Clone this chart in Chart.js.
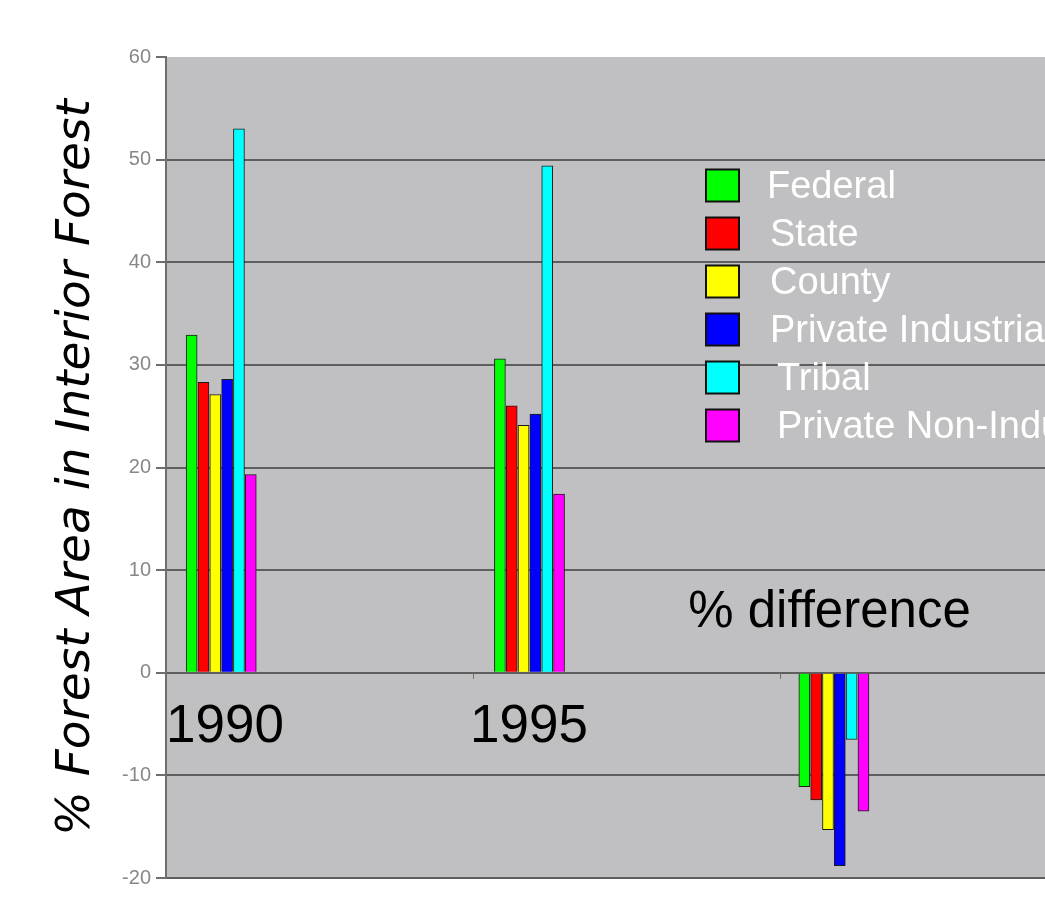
<!DOCTYPE html>
<html lang="en">
<head>
<meta charset="UTF-8">
<title>% Forest Area in Interior Forest</title>
<script src="https://cdn.jsdelivr.net/npm/chart.js"></script>
<style>
  html, body { margin: 0; padding: 0; background: #fff; overflow: hidden; }
</style>
</head>
<body>
<canvas id="forestChart" width="1200" height="923"></canvas>
<script>
// categories and ownership classes
const categories = ['1990', '1995', '% difference'];
const owners = ['Federal', 'State', 'County', 'Private Industrial', 'Tribal', 'Private Non-Industrial'];

// % forest area in interior forest, one array per owner (1990, 1995, % difference)
const federal = [32.9, 30.6, -11.1];
const state = [28.3, 26.0, -12.4];
const county = [27.1, 24.1, -15.3];
const privateIndustrial = [28.6, 25.2, -18.8];
const tribal = [53.0, 49.4, -6.5];
const privateNonIndustrial = [19.3, 17.4, -13.5];

const yTicks = [-20, -10, 0, 10, 20, 30, 40, 50, 60];

const seriesValues = [federal, state, county, privateIndustrial, tribal, privateNonIndustrial];
const barColors = ['#00ff00', '#ff0000', '#ffff00', '#0000ff', '#00ffff', '#ff00ff'];

// bars sit at the left of each category slot, like the original excel chart
const groupStart = [0.0835, 0.087, 0.078];
const slot = 0.0385;

const datasets = owners.map((name, i) => ({
    label: name,
    data: seriesValues[i].map((v, c) => ({ x: c + groupStart[c] + i * slot, y: v })),
    backgroundColor: barColors[i],
    borderColor: '#1c1c1c',
    borderWidth: 1,
    barThickness: 11,
    grouped: false
}));

// gray plot area
const plotBackground = {
    id: 'plotBackground',
    beforeDraw(chart) {
        const { ctx, chartArea: a } = chart;
        ctx.save();
        ctx.fillStyle = '#c0c0c2';
        ctx.fillRect(a.left, a.top, a.right - a.left, a.bottom - a.top);
        ctx.restore();
    }
};

// small tick marks on the zero line + text boxes for the categories
const categoryText = {
    id: 'categoryText',
    afterDatasetsDraw(chart) {
        const { ctx, scales: { x, y } } = chart;
        ctx.save();
        ctx.strokeStyle = '#6e6e6e';
        ctx.lineWidth = 1;
        [1, 2, 3].forEach(v => {
            const px = Math.round(x.getPixelForValue(v)) + 0.5;
            ctx.beginPath();
            ctx.moveTo(px, y.getPixelForValue(0));
            ctx.lineTo(px, y.getPixelForValue(0) + 6);
            ctx.stroke();
        });
        ctx.fillStyle = '#000';
        ctx.textBaseline = 'alphabetic';
        ctx.font = '53px "Liberation Sans", Arial, sans-serif';
        ctx.fillText(categories[0], x.getPixelForValue(0), y.getPixelForValue(-6.7));
        ctx.fillText(categories[1], x.getPixelForValue(0.99), y.getPixelForValue(-6.7));
        ctx.font = '51px "Liberation Sans", Arial, sans-serif';
        ctx.fillText(categories[2], x.getPixelForValue(1.70), y.getPixelForValue(4.5));
        ctx.restore();
    }
};

// legend drawn inside the plot area, white labels
const insideLegend = {
    id: 'insideLegend',
    afterDatasetsDraw(chart) {
        const ctx = chart.ctx;
        ctx.save();
        ctx.font = '38px "Liberation Sans", Arial, sans-serif';
        ctx.textBaseline = 'middle';
        chart.data.datasets.forEach((ds, i) => {
            const cy = 185.5 + i * 48;
            ctx.fillStyle = ds.backgroundColor;
            ctx.fillRect(706, cy - 16, 33, 32);
            ctx.strokeStyle = '#111';
            ctx.lineWidth = 2;
            ctx.strokeRect(706, cy - 16, 33, 32);
            ctx.fillStyle = '#fff';
            ctx.fillText(ds.label, i === 0 ? 767 : (i >= 4 ? 777 : 770), cy + 2);
        });
        ctx.restore();
    }
};

const chart = new Chart(document.getElementById('forestChart'), {
    type: 'bar',
    data: { datasets: datasets },
    plugins: [plotBackground, categoryText, insideLegend],
    options: {
        responsive: false,
        animation: false,
        layout: { padding: { top: 57, bottom: 45, left: 0, right: 51 } },
        plugins: {
            legend: { display: false },
            tooltip: { enabled: false }
        },
        scales: {
            x: {
                type: 'linear',
                min: 0,
                max: 3.2,
                offset: false,
                display: false
            },
            y: {
                min: -20,
                max: 60,
                afterBuildTicks(scale) {
                    scale.ticks = yTicks.map(v => ({ value: v }));
                },
                afterFit(scale) {
                    scale.width = 166;
                },
                ticks: {
                    color: '#888888',
                    padding: 5,
                    font: { family: 'Liberation Sans', size: 20 }
                },
                grid: {
                    color: ctx => (ctx.tick && ctx.tick.value === 60) ? 'rgba(0,0,0,0)' : '#5e5e5e',
                    lineWidth: 2,
                    tickLength: 10,
                    tickColor: '#6e6e6e'
                },
                border: { color: '#6e6e6e', width: 2 },
                title: {
                    display: true,
                    text: '% Forest Area in Interior Forest',
                    color: '#000',
                    font: { family: 'DejaVu Sans', size: 47, style: 'italic', weight: 'normal' },
                    padding: { top: 49, bottom: 0 }
                }
            }
        }
    }
});
</script>
</body>
</html>
